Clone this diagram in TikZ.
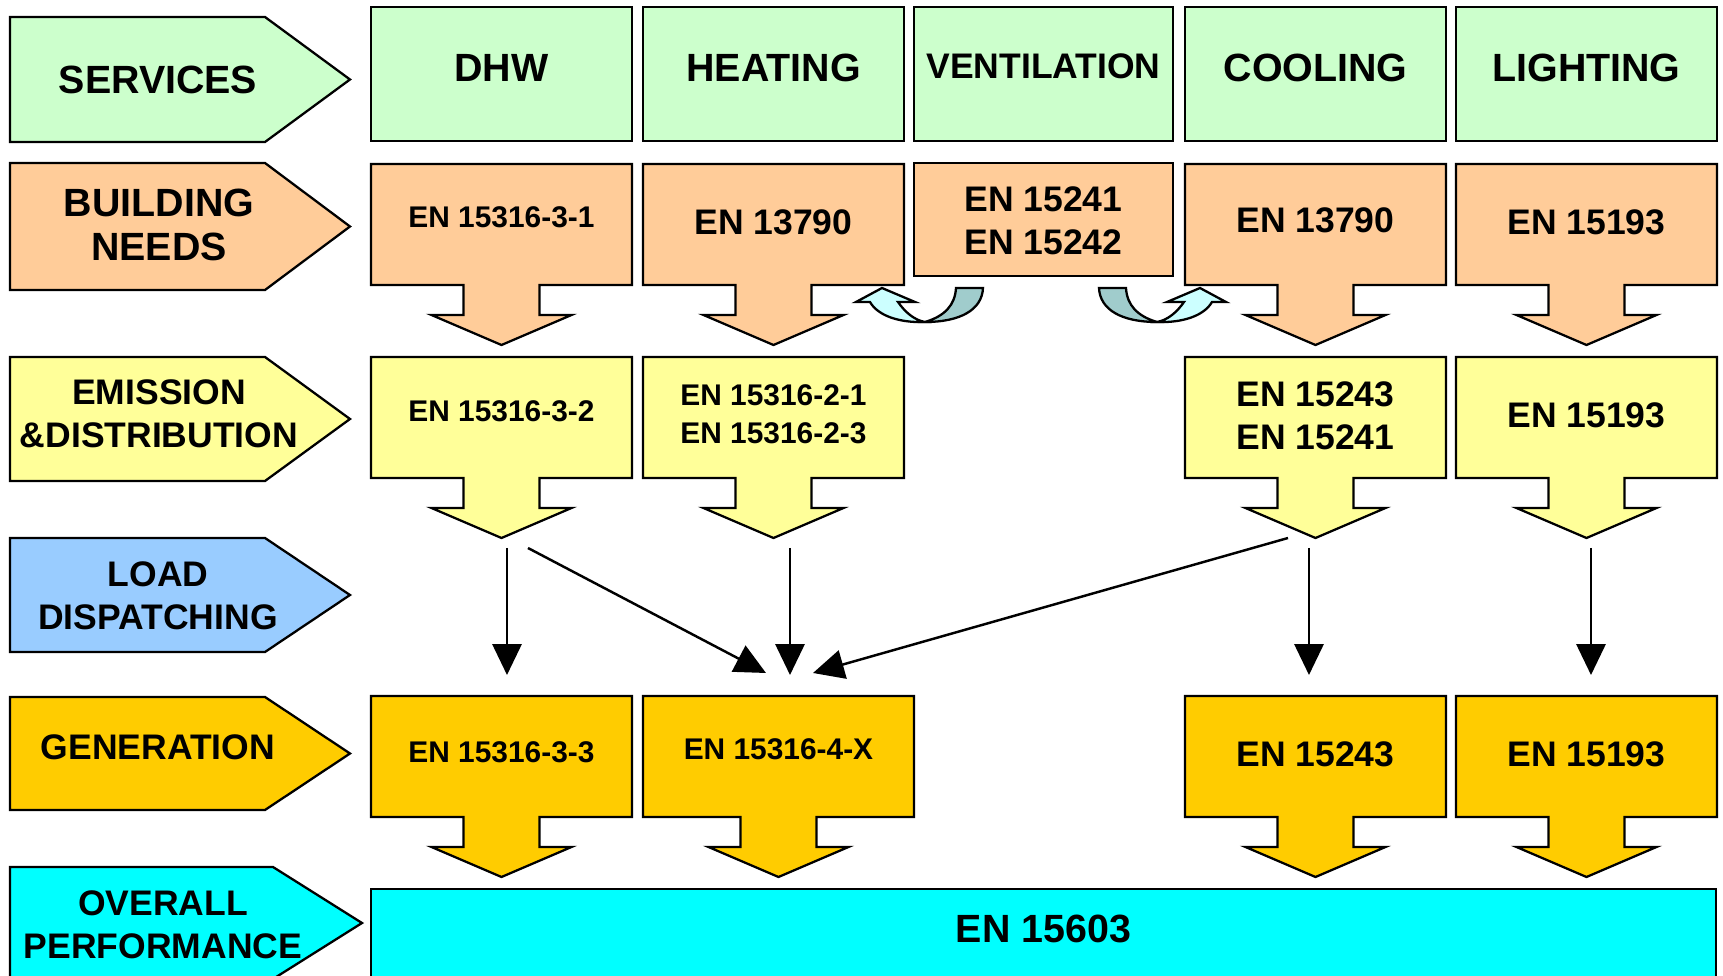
\documentclass[tikz,border=0pt]{standalone}
\usepackage{fontspec}
\setmainfont{Liberation Sans}
\usetikzlibrary{arrows.meta}
\definecolor{svc}{HTML}{CCFFCC}
\definecolor{bld}{HTML}{FFCC99}
\definecolor{emi}{HTML}{FFFF99}
\definecolor{lod}{HTML}{99CCFF}
\definecolor{gen}{HTML}{FFCC00}
\definecolor{ovr}{HTML}{00FFFF}
\definecolor{cfront}{HTML}{CCFFFF}
\definecolor{cback}{HTML}{A0CCCC}
% box with a down arrow: left, right, top, bottom, colour
\newcommand{\dncallout}[5]{%
  \pgfmathsetmacro{\cxx}{(#1+#2)/2}%
  \filldraw[fill=#5, box line] (#1,#3) -- (#2,#3) -- (#2,#4) -- (\cxx+38,#4) -- (\cxx+38,#4+30) -- (\cxx+70,#4+30) -- (\cxx,#4+60) -- (\cxx-70,#4+30) -- (\cxx-38,#4+30) -- (\cxx-38,#4) -- (#1,#4) -- cycle;}
% pentagon label: left, body right, tip, top, bottom, colour
\newcommand{\pentlabel}[6]{%
  \filldraw[fill=#6, box line] (#1,#4) -- (#2,#4) -- (#3,{(#4+#5)/2}) -- (#2,#5) -- (#1,#5) -- cycle;}
\begin{document}
\begin{tikzpicture}[x=0.01cm,y=-0.01cm,
  box line/.style={draw=black,line width=0.65pt,line join=miter},
  tbig/.style={font=\bfseries\fontsize{11.2}{12.5}\selectfont, align=center, inner sep=0pt},
  tmid/.style={font=\bfseries\fontsize{10.1}{12.2}\selectfont, align=center, inner sep=0pt},
  tsml/.style={font=\bfseries\fontsize{8.5}{10.8}\selectfont, align=center, inner sep=0pt},
  conn/.style={line width=0.7pt, -{Triangle[length=8.8pt,width=8.3pt]}}]
\useasboundingbox (0,0) rectangle (1723,976);
\clip (0,0) rectangle (1723,976);
\fill[white] (0,0) rectangle (1723,976);

% ---- left labels
\pentlabel{10}{265}{350}{17}{142}{svc}
\pentlabel{10}{265}{350}{163}{290}{bld}
\pentlabel{10}{265}{350}{357}{481}{emi}
\pentlabel{10}{265}{350}{538}{652}{lod}
\pentlabel{10}{265}{350}{697}{810}{gen}
\pentlabel{10}{273}{362}{867}{979}{ovr}
\node[tbig] (lsvc) at (158,80) {SERVICES};
\node[tbig] (lbld) at (159,225) {BUILDING\\NEEDS};
\node[tmid] (lemi) at (159,414) {EMISSION\\\&DISTRIBUTION};
\node[tmid] (llod) at (158,596) {LOAD\\DISPATCHING};
\node[tmid] (lgen) at (158,747) {GENERATION};
\node[tmid] (lovr) at (163,925) {OVERALL\\PERFORMANCE};

% ---- services row
\filldraw[fill=svc, box line] (371,7) rectangle (632,141);
\filldraw[fill=svc, box line] (643,7) rectangle (904,141);
\filldraw[fill=svc, box line] (914,7) rectangle (1173,141);
\filldraw[fill=svc, box line] (1185,7) rectangle (1446,141);
\filldraw[fill=svc, box line] (1456,7) rectangle (1717,141);
\node[tbig] (sdhw) at (501.5,68) {DHW};
\node[tbig] (shea) at (773.5,68) {HEATING};
\node[tmid] (sven) at (1043.5,66) {VENTILATION};
\node[tbig] (scoo) at (1315.5,68) {COOLING};
\node[tbig] (slig) at (1586.5,68) {LIGHTING};

% ---- building needs row
\dncallout{371}{632}{164}{285}{bld}
\dncallout{643}{904}{164}{285}{bld}
\filldraw[fill=bld, box line] (914,163) rectangle (1173,276);
\dncallout{1185}{1446}{164}{285}{bld}
\dncallout{1456}{1717}{164}{285}{bld}
\node[tsml] (bdhw) at (501.5,217) {EN 15316-3-1};
\node[tmid] (bhea) at (773.5,222) {EN 13790};
\node[tmid] (bven) at (1043.5,221) {EN 15241\\EN 15242};
\node[tmid] (bcoo) at (1315.5,220) {EN 13790};
\node[tmid] (blig) at (1586.5,222) {EN 15193};

% ---- curved arrows
\filldraw[fill=cback, box line] (956,288) -- (983,288) .. controls (982,310) and (960,322) .. (925,322) .. controls (945,316) and (955,305) .. (956,288) -- cycle;
\filldraw[fill=cfront, box line] (882,288) -- (915,302) -- (898,302) .. controls (905,312) and (914,320) .. (925,322) .. controls (900,323) and (878,316) .. (870,302) -- (856,302) -- cycle;
\begin{scope}[shift={(2082,0)},xscale=-1]
\filldraw[fill=cback, box line] (956,288) -- (983,288) .. controls (982,310) and (960,322) .. (925,322) .. controls (945,316) and (955,305) .. (956,288) -- cycle;
\filldraw[fill=cfront, box line] (882,288) -- (915,302) -- (898,302) .. controls (905,312) and (914,320) .. (925,322) .. controls (900,323) and (878,316) .. (870,302) -- (856,302) -- cycle;
\end{scope}

% ---- emission row
\dncallout{371}{632}{357}{478}{emi}
\dncallout{643}{904}{357}{478}{emi}
\dncallout{1185}{1446}{357}{478}{emi}
\dncallout{1456}{1717}{357}{478}{emi}
\node[tsml] (edhw) at (501.5,411) {EN 15316-3-2};
\node[tsml] (ehea) at (773.5,414) {EN 15316-2-1\\EN 15316-2-3};
\node[tmid] (ecoo) at (1315.5,416) {EN 15243\\EN 15241};
\node[tmid] (elig) at (1586.5,415) {EN 15193};

% ---- load dispatching connectors
\coordinate (c1s) at (507,548);  \coordinate (c1e) at (507,675);
\coordinate (c2s) at (528,548);  \coordinate (c2e) at (766,673);
\coordinate (c3s) at (790,548);  \coordinate (c3e) at (790,675);
\coordinate (c4s) at (1288,538); \coordinate (c4e) at (813,673);
\coordinate (c5s) at (1309,548); \coordinate (c5e) at (1309,675);
\coordinate (c6s) at (1591,548); \coordinate (c6e) at (1591,675);
\draw[conn] (c1s) -- (c1e);
\draw[conn] (c2s) -- (c2e);
\draw[conn] (c3s) -- (c3e);
\draw[conn] (c4s) -- (c4e);
\draw[conn] (c5s) -- (c5e);
\draw[conn] (c6s) -- (c6e);

% ---- generation row
\dncallout{371}{632}{696}{817}{gen}
\dncallout{643}{914}{696}{817}{gen}
\dncallout{1185}{1446}{696}{817}{gen}
\dncallout{1456}{1717}{696}{817}{gen}
\node[tsml] (gdhw) at (501.5,752) {EN 15316-3-3};
\node[tsml] (ghea) at (778.5,749) {EN 15316-4-X};
\node[tmid] (gcoo) at (1315.5,754) {EN 15243};
\node[tmid] (glig) at (1586.5,754) {EN 15193};

% ---- overall performance
\filldraw[fill=ovr, box line] (371,889) rectangle (1716,1000);
\node[tbig] (oall) at (1043.5,929) {EN 15603};
\end{tikzpicture}
\end{document}
